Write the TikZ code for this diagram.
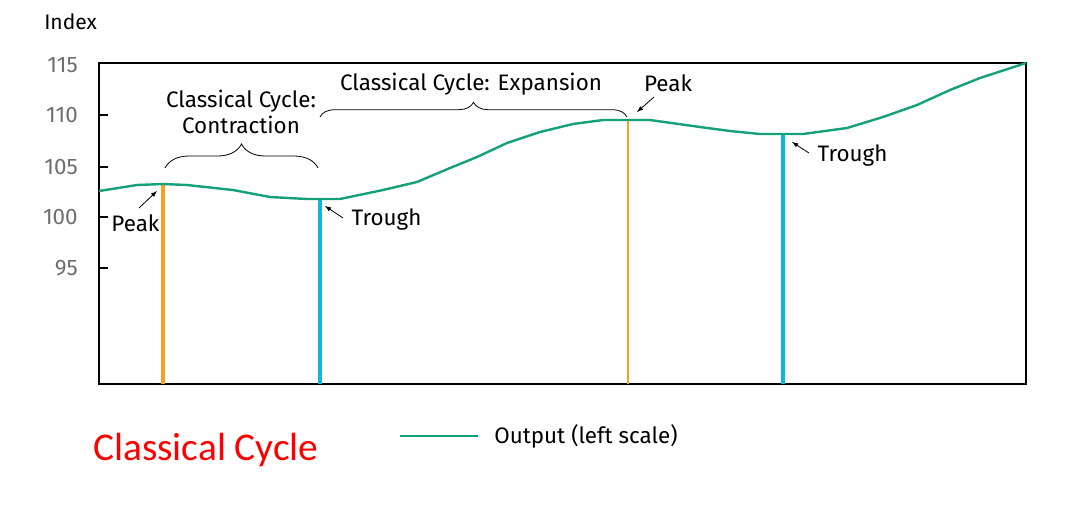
\documentclass[tikz,border=0pt]{standalone}
\usepackage{fontspec}
\setmainfont{Fira Sans}
\newfontfamily\titlefont{Carlito}
\usetikzlibrary{positioning, decorations.pathreplacing}
\definecolor{outgreen}{RGB}{20,160,120}
\definecolor{peakorange}{RGB}{246,160,36}
\definecolor{troughblue}{RGB}{16,182,226}
\definecolor{scalegray}{RGB}{110,110,110}

\begin{document}
\begin{tikzpicture}[x=0.75pt,y=-0.75pt,
    font=\fontsize{16.8}{20}\selectfont,
    tick/.style={scalegray, anchor=east, inner sep=0pt},
    note/.style={inner sep=1pt},
    pointer/.style={-latex, line width=0.6pt},
    brace/.style={decorate, line width=0.6pt}]
    \useasboundingbox (0,0) rectangle (1069,512);
    % Axis frame
        \coordinate (bl) at (99,384);
        \coordinate (tr) at (1026,63);
        \draw[line width=1.6pt] (bl) rectangle (tr);
        \node[anchor=west, inner sep=0pt, font=\fontsize{15.8}{19}\selectfont] (index) at (44,22) {Index};
        \foreach \v/\y in {115/65,110/115,105/167,100/217,95/268}
            \node[tick] (s\v) at (78,\y) {\v};
        \foreach \y in {115,167,217,268}
            \draw[line width=1.6pt] (99,\y) -- (108,\y);
    % Turning points
        \coordinate (p1) at (163,184);
        \coordinate (t1) at (320,199);
        \coordinate (p2) at (628,120);
        \coordinate (t2) at (783,134);
        \draw[peakorange, line width=2.6pt] (p1) -- (p1 |- bl);
        \draw[troughblue, line width=3pt] (t1) -- (t1 |- bl);
        \draw[peakorange, line width=1.6pt] (p2) -- (p2 |- bl);
        \draw[troughblue, line width=3pt] (t2) -- (t2 |- bl);
    % Output curve
        \draw[outgreen, line width=1.8pt, line join=round]
            (99,191) -- (137,185) -- (p1) -- (187,185) -- (233,190)
            -- (270,197) -- (307,199) -- (t1) -- (340,199) -- (383,190)
            -- (417,182) -- (450,168) -- (477,157) -- (507,143) -- (540,132)
            -- (573,124) -- (603,120) -- (p2) -- (650,120) -- (700,127)
            -- (730,131) -- (760,134) -- (t2) -- (803,134) -- (847,128)
            -- (883,117) -- (917,105) -- (950,90) -- (980,78) -- (tr);
    % Labels
        \node[note, anchor=north east] (lp1) at (161,213) {Peak};
        \node[note, anchor=west] (lt1) at (350,219) {Trough};
        \node[note] (lp2) at (668,83) {Peak};
        \node[note, anchor=west] (lt2) at (816,155) {Trough};
        \draw[pointer] (139,208) -- (157,191);
        \draw[pointer] (343,218) -- (325,206);
        \draw[pointer] (654,97) -- (637,112);
        \draw[pointer] (809,153) -- (792,142);
    % Braces
        \draw[brace, decoration={brace, amplitude=18pt}] (165,168) -- (318,168);
        \draw[brace, decoration={brace, amplitude=11pt}] (320,117) -- (627,117);
        \node[note, align=center] (contr) at (241,112) {Classical Cycle:\\Contraction};
        \node[note] (expan) at (471,84) {Classical Cycle: Expansion};
    % Legend and title
        \coordinate (leg) at (400,436);
        \draw[outgreen, line width=1.8pt] (leg) -- ++(78,0) coordinate (leg2);
        \node[note, anchor=west, right=11pt of leg2] (legtext) {Output (left scale)};
        \node[anchor=west, inner sep=0pt, text=red,
              font=\titlefont\fontsize{29.5}{34}\selectfont] (title) at (93,450) {Classical Cycle};
\end{tikzpicture}
\end{document}
